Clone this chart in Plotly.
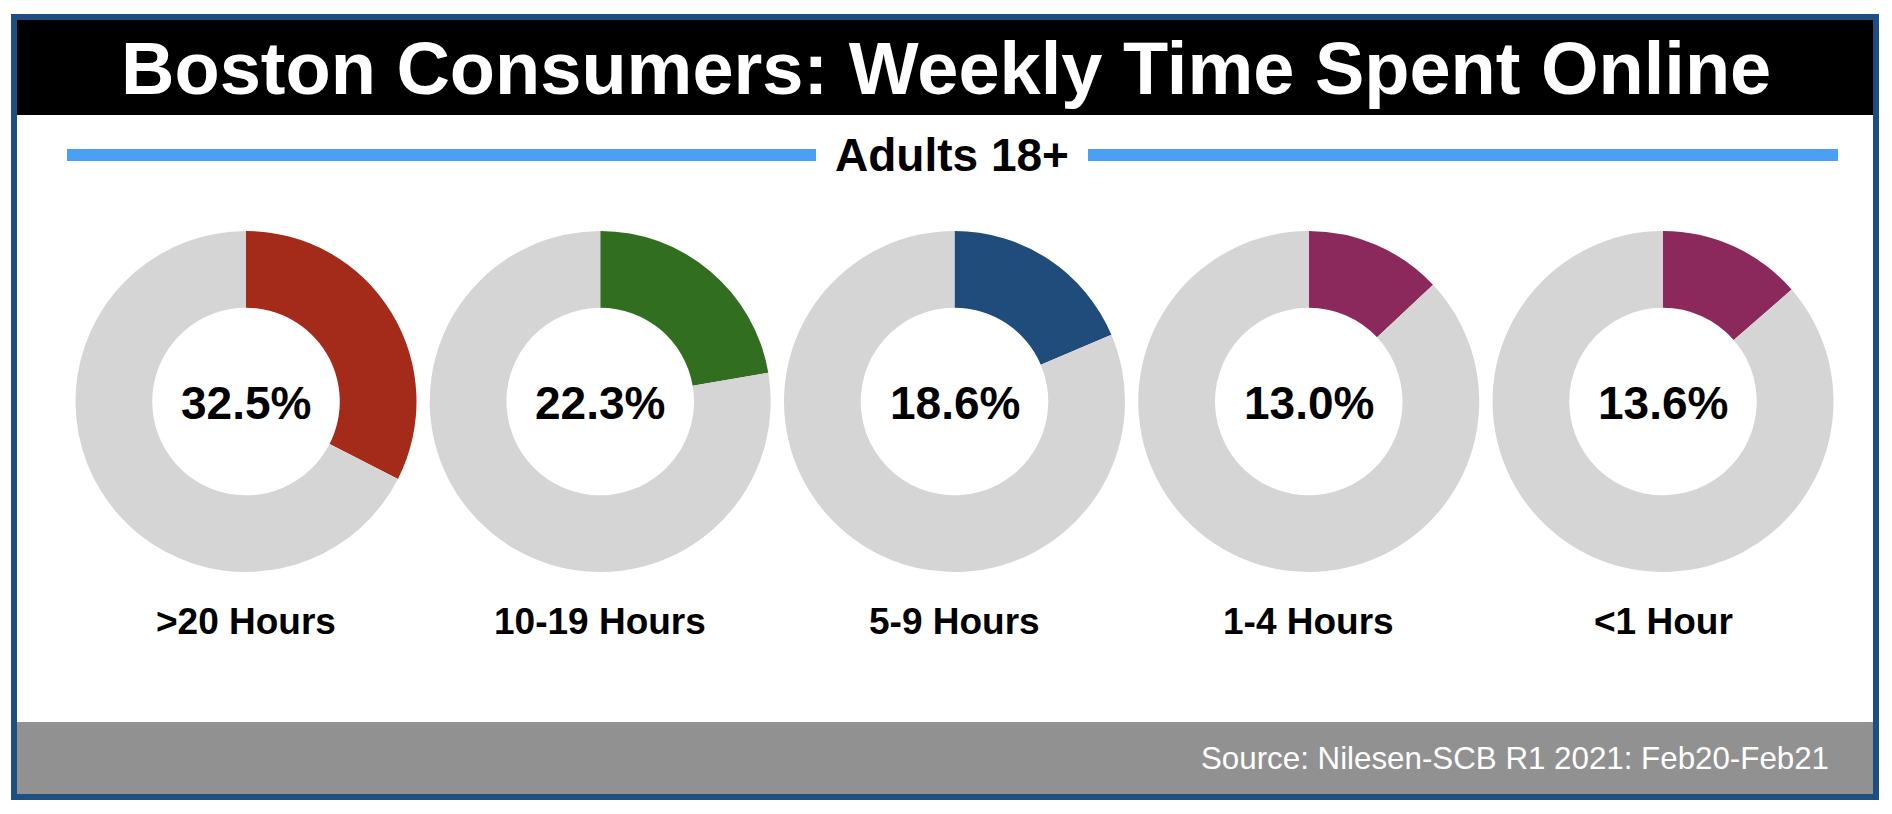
import plotly.graph_objects as go

# Data
categories = [">20 Hours", "10-19 Hours", "5-9 Hours", "1-4 Hours", "<1 Hour"]
shares = [32.5, 22.3, 18.6, 13.0, 13.6]
colors = ["#A42A19", "#326E20", "#1F4C7A", "#8B295C", "#8B295C"]
title_text = "Boston Consumers: Weekly Time Spent Online"
subtitle_text = "Adults 18+"
source_text = "Source: Nilesen-SCB R1 2021: Feb20-Feb21"

W, H = 1892, 814
FONT = "Liberation Sans, Arial, Helvetica, sans-serif"

fig = go.Figure()
# invisible trace so the pixel-space axes exist for shapes/annotations
fig.add_trace(go.Scatter(x=[0], y=[0], mode="markers", marker=dict(opacity=0),
                         hoverinfo="skip", showlegend=False))

cx0, dx = 246, 354.25
cy = 401.5
R = 170.5
for i, (cat, v, c) in enumerate(zip(categories, shares, colors)):
    cx = cx0 + i * dx
    fig.add_trace(go.Pie(
        values=[v, 100 - v],
        labels=[cat, "Other"],
        marker=dict(colors=[c, "#D5D5D5"], line=dict(width=0)),
        hole=0.55,
        sort=False,
        direction="clockwise",
        rotation=0,
        textinfo="none",
        hoverinfo="label+value",
        showlegend=False,
        domain=dict(x=[(cx - R) / W, (cx + R) / W],
                    y=[1 - (cy + R) / H, 1 - (cy - R) / H]),
    ))
    fig.add_annotation(x=cx, y=403, text=f"<b>{v:.1f}%</b>", showarrow=False,
                       xanchor="center", yanchor="middle",
                       font=dict(family=FONT, size=46, color="black"))
    fig.add_annotation(x=cx, y=621, text=f"<b>{cat}</b>", showarrow=False,
                       xanchor="center", yanchor="middle",
                       font=dict(family=FONT, size=37, color="black"))

shapes = [
    # title bar
    dict(type="rect", x0=17, x1=1873, y0=20, y1=115, fillcolor="black", line=dict(width=0), layer="below"),
    # footer band
    dict(type="rect", x0=17, x1=1873, y0=722, y1=794, fillcolor="#919191", line=dict(width=0), layer="below"),
    # blue rules
    dict(type="rect", x0=67, x1=816, y0=149, y1=161, fillcolor="#4AA0F5", line=dict(width=0), layer="below"),
    dict(type="rect", x0=1088, x1=1838, y0=149, y1=161, fillcolor="#4AA0F5", line=dict(width=0), layer="below"),
    # outer border
    dict(type="rect", x0=14, x1=1876, y0=17, y1=797, fillcolor="rgba(0,0,0,0)",
         line=dict(width=6, color="#1F4E80"), layer="above"),
]

fig.add_annotation(x=946, y=68, text=f"<b>{title_text}</b>", showarrow=False,
                   xanchor="center", yanchor="middle",
                   font=dict(family=FONT, size=74, color="white"))
fig.add_annotation(x=951.5, y=155, text=f"<b>{subtitle_text}</b>", showarrow=False,
                   xanchor="center", yanchor="middle",
                   font=dict(family=FONT, size=46, color="black"))
fig.add_annotation(x=1831, y=758, text=source_text, showarrow=False,
                   xanchor="right", yanchor="middle",
                   font=dict(family=FONT, size=31.3, color="white"))

fig.update_layout(
    width=W, height=H,
    margin=dict(l=0, r=0, t=0, b=0),
    paper_bgcolor="white", plot_bgcolor="rgba(0,0,0,0)",
    shapes=shapes,
    xaxis=dict(range=[0, W], visible=False, fixedrange=True, domain=[0, 1]),
    yaxis=dict(range=[H, 0], visible=False, fixedrange=True, domain=[0, 1]),
    showlegend=False,
)

fig.write_html("out.html")
